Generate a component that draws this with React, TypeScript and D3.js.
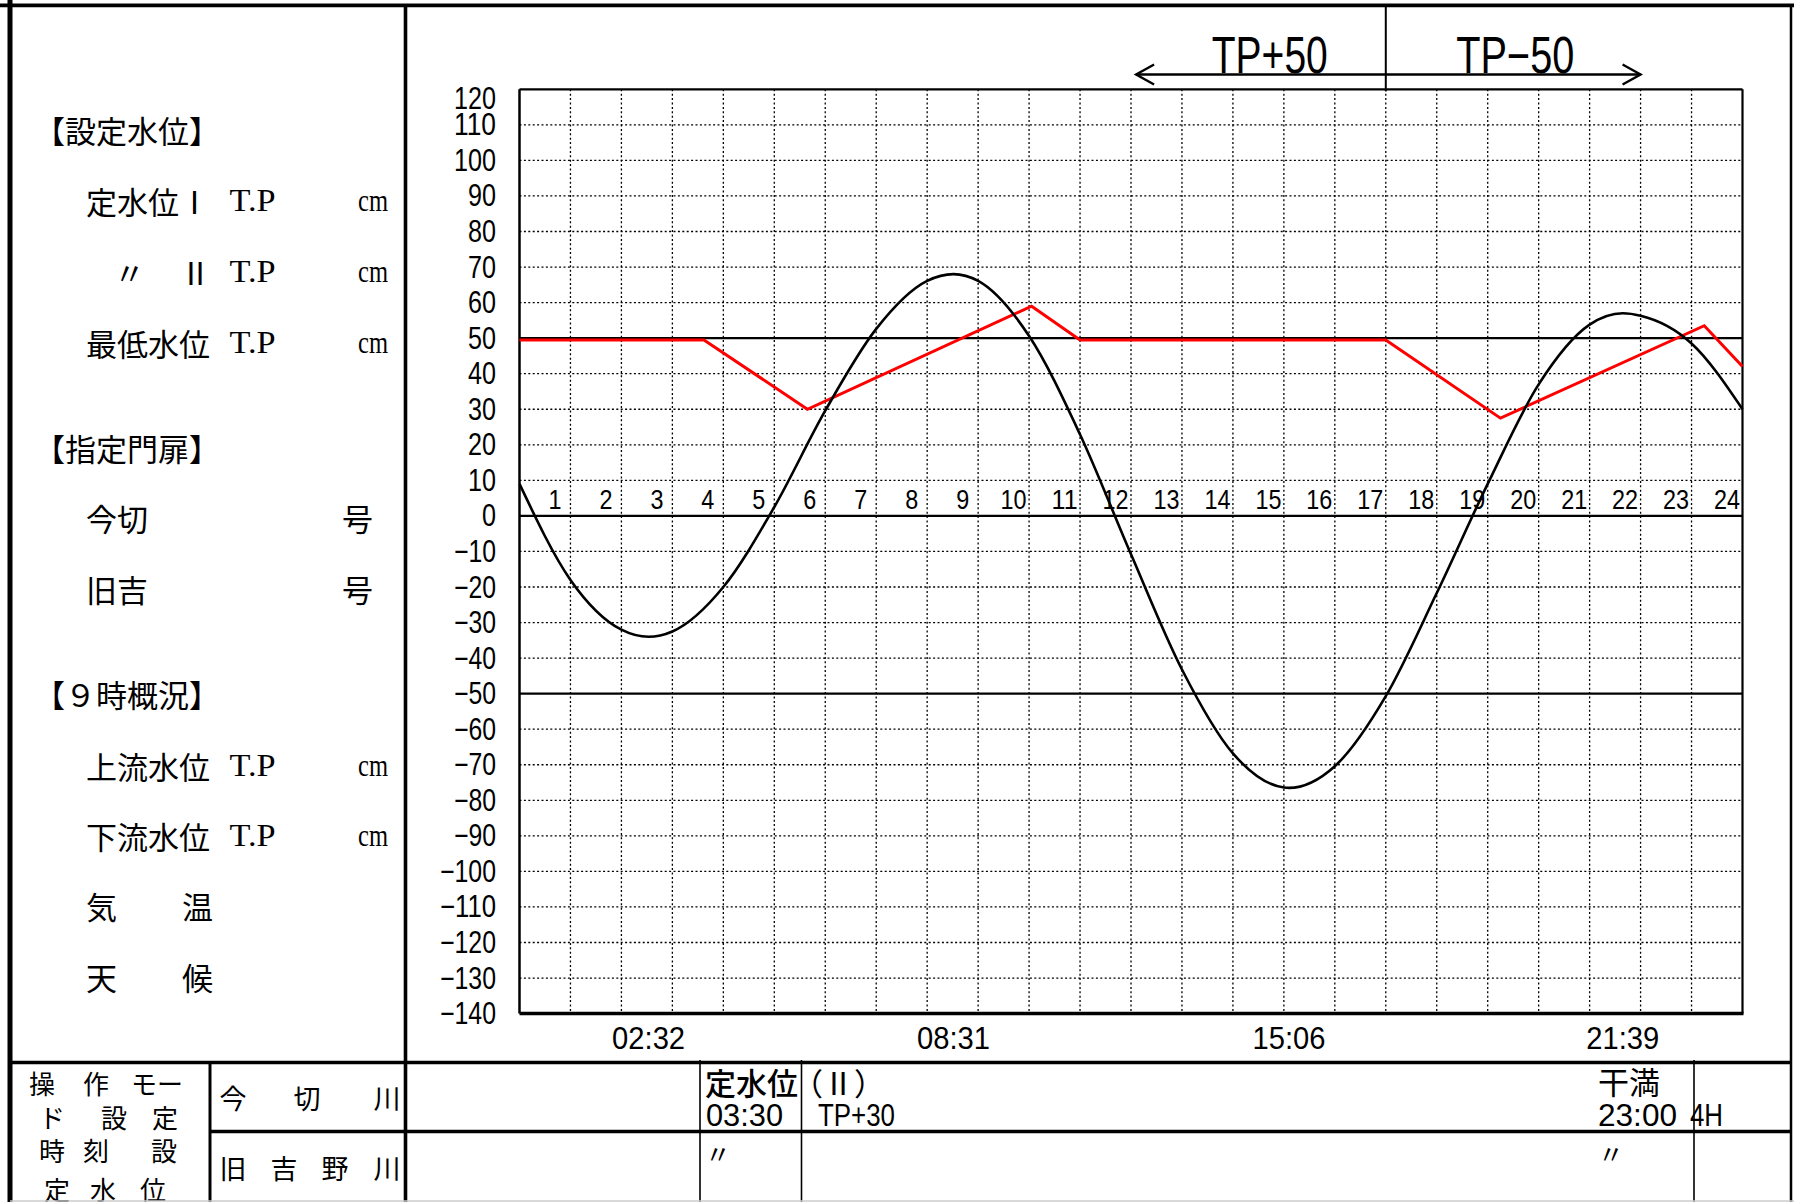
import React from 'react';
import * as d3 from 'd3';

// ---------- data ----------
const hourLabels = ['1','2','3','4','5','6','7','8','9','10','11','12','13','14','15','16','17','18','19','20','21','22','23','24'];
const yTickValues = [120,110,100,90,80,70,60,50,40,30,20,10,0,-10,-20,-30,-40,-50,-60,-70,-80,-90,-100,-110,-120,-130,-140];
const referenceLevels = [50, 0, -50];
const gridHours = [1,2,3,4,5,6,7,8,9,10,11,12,13,14,15,16,17,18,19,20,21,22,23];
const gridLevels = [110,100,90,80,70,60,40,30,20,10,-10,-20,-30,-40,-60,-70,-80,-90,-100,-110,-120,-130];

// predicted tide (black curve), hours vs cm
const tideHours = [0,1,2,2.533,3,4,5,6,7,8,8.517,9,10,11,12,13,14,15,15.1,16,17,18,19,20,21,21.65,22,23,24];
const tideLevels = [9,-18,-32,-34,-32.5,-20,2.5,29.6,52.6,66.1,68,66.1,50.6,22.9,-10.8,-43.2,-66.8,-76.4,-76.5,-70.4,-50.7,-21.7,9,37,53.8,57,56.3,48.5,30];

// tide extreme times (x-axis labels)
const extremeTimes = ['02:32','08:31','15:06','21:39'];

// set water level (red line)
const settingHours = [0,3.62,5.65,10.05,11,17,19.25,23.25,24];
const settingLevels = [49.5,49.5,30,59,49.5,49.5,27.5,53.5,42];

// annotation
const dividerHour = 17;
const arrowFromHour = 12.1;
const arrowToHour = 22;
const annotationLeft = 'TP+50';
const annotationRight = 'TP−50';

// ---------- layout ----------
const W = 1794;
const H = 1202;
const P = { left: 519.5, right: 1742.5, top: 89.3, bottom: 1013.6 };

const LATIN = "'Liberation Sans', Arial, sans-serif";
const SERIF = "'Liberation Serif', 'DejaVu Serif', serif";
const JP = "'Noto Sans CJK JP', 'Noto Sans', sans-serif";

function Mono(props: any) {
  const { x, y, text, size, anchor = 'start', cw = 0.5, baseline = 'central', family = LATIN, len } = props;
  return (
    <text
      x={x}
      y={y}
      fontSize={size}
      fontFamily={family}
      textAnchor={anchor}
      dominantBaseline={baseline}
      textLength={len ?? text.length * size * cw}
      lengthAdjust="spacingAndGlyphs"
      fill="#000"
    >
      {text}
    </text>
  );
}

function JT(props: any) {
  const { x, y, text, size = 31, anchor = 'start', len, weight } = props;
  return (
    <text
      x={x}
      y={y}
      fontSize={size}
      fontFamily={JP}
      textAnchor={anchor}
      dominantBaseline="central"
      fill="#000"
      fontWeight={weight}
      {...(len ? { textLength: len, lengthAdjust: 'spacing' } : {})}
    >
      {text}
    </text>
  );
}

function parseTime(t: string) {
  const [hh, mm] = t.split(':').map(Number);
  return hh + mm / 60;
}

export default function App() {
  const x = d3.scaleLinear().domain([0, 24]).range([P.left, P.right]);
  const y = d3.scaleLinear().domain([-140, 120]).range([P.bottom, P.top]);

  const tide = tideHours.map((h, i) => [h, tideLevels[i]] as [number, number]);
  const setting = settingHours.map((h, i) => [h, settingLevels[i]] as [number, number]);

  const tidePath = d3
    .line<[number, number]>()
    .x((d) => x(d[0]))
    .y((d) => y(d[1]))
    .curve(d3.curveMonotoneX)(tide) as string;

  const settingPath = d3
    .line<[number, number]>()
    .x((d) => x(d[0]))
    .y((d) => y(d[1]))(setting) as string;

  const fmt = (v: number) => (v < 0 ? '−' : '') + Math.abs(v);

  const arrowY = 74.5;
  const ax0 = x(arrowFromHour);
  const ax1 = x(arrowToHour);
  const xd = x(dividerHour);

  const tpRow = (yy: number) => (
    <g>
      <Mono x={229.5} y={yy} text="T.P" size={31} family={SERIF} len={46} />
      <Mono x={358} y={yy} text="cm" size={31} family={SERIF} len={30} />
    </g>
  );

  return (
    <svg
      width={W}
      height={H}
      viewBox={`0 0 ${W} ${H}`}
      style={{ position: 'absolute', left: 0, top: 0, display: 'block', background: '#fff' }}
    >
      <rect x={0} y={0} width={W} height={H} fill="#fff" />

      {/* ---------- grid ---------- */}
      <g stroke="#000" strokeWidth={1.3} strokeDasharray="2 2.4" fill="none">
        {gridLevels.map((v) => (
          <line key={'h' + v} x1={P.left} x2={P.right} y1={y(v)} y2={y(v)} />
        ))}
        {gridHours.map((h) => (
          <line key={'v' + h} x1={x(h)} x2={x(h)} y1={P.top} y2={P.bottom} />
        ))}
      </g>

      {/* reference levels */}
      <g stroke="#000" strokeWidth={2.2}>
        {referenceLevels.map((v) => (
          <line key={'r' + v} x1={P.left} x2={P.right} y1={y(v)} y2={y(v)} />
        ))}
      </g>

      {/* plot frame */}
      <g stroke="#000" fill="none">
        <line x1={P.left} x2={P.right} y1={P.top} y2={P.top} strokeWidth={2.2} />
        <line x1={P.left} x2={P.left} y1={P.top} y2={P.bottom} strokeWidth={2.5} />
        <line x1={P.right} x2={P.right} y1={P.top} y2={P.bottom} strokeWidth={2.2} />
        <line x1={P.left} x2={P.right + 1} y1={P.bottom} y2={P.bottom} strokeWidth={3.5} />
      </g>

      {/* hour labels inside plot */}
      {hourLabels.map((t, i) => (
        <Mono key={'hl' + t} x={x(i + 0.5) + 10} y={499} text={t} size={28} len={t.length * 13} anchor="middle" />
      ))}

      {/* series */}
      <path d={settingPath} fill="none" stroke="#ff0000" strokeWidth={3} strokeLinejoin="miter" />
      <path d={tidePath} fill="none" stroke="#000" strokeWidth={2.6} />

      {/* y tick labels */}
      {yTickValues.map((v) => (
        <Mono
          key={'yt' + v}
          x={496}
          y={Math.max(y(v), P.top + 9)}
          text={fmt(v)}
          size={31}
          len={fmt(v).length * 14}
          anchor="end"
        />
      ))}

      {/* x labels: tide extreme times */}
      {extremeTimes.map((t) => (
        <Mono key={'et' + t} x={x(parseTime(t))} y={1038} text={t} size={32} len={73} anchor="middle" />
      ))}

      {/* top annotation */}
      <g stroke="#000" strokeWidth={2.4} fill="none">
        <line x1={xd} x2={xd} y1={5} y2={P.top + 2} strokeWidth={2} />
        <line x1={ax0} x2={ax1} y1={arrowY} y2={arrowY} />
        <polyline points={`${ax0 + 18},${arrowY - 10} ${ax0},${arrowY} ${ax0 + 18},${arrowY + 10}`} />
        <polyline points={`${ax1 - 18},${arrowY - 10} ${ax1},${arrowY} ${ax1 - 18},${arrowY + 10}`} />
      </g>
      <Mono x={xd - 116} y={73} text={annotationLeft} size={51} anchor="middle" baseline="alphabetic" len={116} />
      <Mono x={xd + 129.5} y={73} text={annotationRight} size={51} anchor="middle" baseline="alphabetic" len={118} />

      {/* ---------- left panel ---------- */}
      <JT x={34} y={129} text="【設定水位】" />
      <JT x={86} y={200} text="定水位Ⅰ" />
      {tpRow(200)}
      <JT x={114} y={271} text="〃" />
      <JT x={180} y={271} text="Ⅱ" />
      {tpRow(271)}
      <JT x={86} y={342} text="最低水位" />
      {tpRow(342)}

      <JT x={34} y={447} text="【指定門扉】" />
      <JT x={86} y={517} text="今切" />
      <JT x={342} y={517} text="号" />
      <JT x={86} y={588} text="旧吉" />
      <JT x={342} y={588} text="号" />

      <JT x={34} y={693} text="【９時概況】" />
      <JT x={86} y={765} text="上流水位" />
      {tpRow(765)}
      <JT x={86} y={835} text="下流水位" />
      {tpRow(835)}
      <JT x={86} y={905} text="気" />
      <JT x={182} y={905} text="温" />
      <JT x={86} y={976} text="天" />
      <JT x={182} y={976} text="候" />

      {/* ---------- bottom table ---------- */}
      {[
        { y: 1082, c: [['操', 42], ['作', 96], ['モ', 144], ['ー', 170]] },
        { y: 1116, c: [['ド', 52], ['設', 114], ['定', 165]] },
        { y: 1149, c: [['時', 52], ['刻', 96], ['設', 164]] },
        { y: 1188, c: [['定', 57], ['水', 103], ['位', 153]] },
      ].map((row, ri) =>
        row.c.map(([ch, cx]) => (
          <JT key={'c1' + ri + cx} x={cx} y={row.y} text={ch} size={26} anchor="middle" />
        ))
      )}
      {[['今', 233], ['切', 307], ['川', 387]].map(([ch, cx]) => (
        <JT key={'r1' + cx} x={cx} y={1097} text={ch} size={27} anchor="middle" />
      ))}
      {[['旧', 233], ['吉', 284], ['野', 335], ['川', 387]].map(([ch, cx]) => (
        <JT key={'r2' + cx} x={cx} y={1167} text={ch} size={27} anchor="middle" />
      ))}

      <JT x={705} y={1081} text="定水位" size={31} weight={500} />
      <Mono x={706} y={1115} text="03:30" size={32} len={77} />
      <JT x={792} y={1081} text="（Ⅱ）" size={31} />
      <Mono x={818} y={1115} text="TP+30" size={32} len={77} />
      <JT x={1598} y={1080} text="干満" size={31} />
      <Mono x={1598} y={1115} text="23:00" size={32} len={79} />
      <Mono x={1690} y={1115} text="4H" size={32} len={33} />
      <JT x={705} y={1152} text="〃" size={26} />
      <JT x={1598} y={1152} text="〃" size={26} />

      {/* ---------- frame ---------- */}
      <g stroke="#000" fill="none">
        <line x1={0} x2={W} y1={5.4} y2={5.4} strokeWidth={3.8} />
        <line x1={10} x2={10} y1={0} y2={H} strokeWidth={5} />
        <line x1={1791} x2={1791} y1={5} y2={H} strokeWidth={2.5} />
        <line x1={405.5} x2={405.5} y1={5} y2={H} strokeWidth={3.6} />
        <line x1={10} x2={1791} y1={1062.5} y2={1062.5} strokeWidth={3.6} />
        <line x1={210} x2={1791} y1={1131.5} y2={1131.5} strokeWidth={3.6} />
        <line x1={210} x2={210} y1={1062} y2={H} strokeWidth={3} />
        <line x1={700} x2={700} y1={1060} y2={H} strokeWidth={1.6} />
        <line x1={801.5} x2={801.5} y1={1060} y2={H} strokeWidth={1.6} />
        <line x1={1694} x2={1694} y1={1060} y2={H} strokeWidth={1.6} />
        <line x1={10} x2={W} y1={1201} y2={1201} strokeWidth={1.5} stroke="#cccccc" />
      </g>
    </svg>
  );
}
